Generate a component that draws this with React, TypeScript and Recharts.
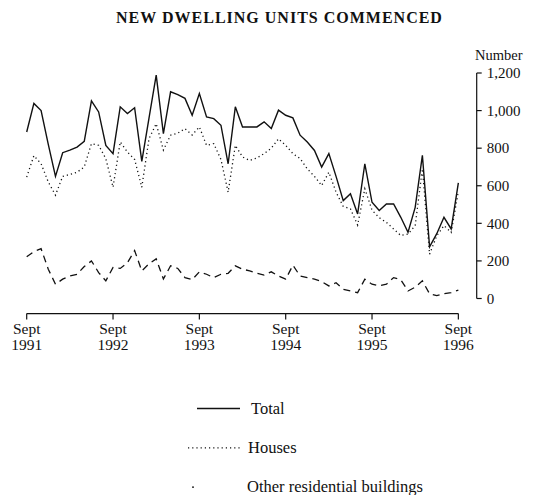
import React from "react";
import { LineChart, Line, XAxis, YAxis, ReferenceLine } from "recharts";

// month index 0 = Sept 1991 ... 60 = Sept 1996
const total = [
  886, 1038, 1000, 820, 650, 776, 790, 806, 836, 1052,
  993, 815, 771, 1020, 984, 1015, 730, 960, 1189, 877,
  1100, 1085, 1065, 975, 1091, 966, 957, 922, 717, 1020,
  913, 913, 913, 940, 904, 1002, 975, 961, 869, 833,
  788, 699, 771, 650, 521, 557, 450, 717, 512, 468,
  503, 503, 432, 352, 485, 762, 275, 345, 432, 370, 615,
];
const houses = [
  646, 760, 717, 620, 550, 650, 660, 672, 700, 824,
  815, 744, 592, 833, 780, 740, 592, 850, 930, 790,
  869, 880, 904, 870, 913, 815, 824, 740, 566, 815,
  753, 735, 748, 771, 800, 850, 815, 771, 745, 690,
  650, 601, 672, 566, 490, 477, 391, 584, 470, 430,
  405, 370, 335, 343, 388, 690, 236, 334, 388, 352, 570,
];
const otherRes = [
  222, 250, 265, 156, 76, 103, 120, 129, 170, 200,
  138, 94, 165, 160, 190, 255, 147, 185, 211, 104,
  174, 160, 111, 100, 142, 129, 111, 129, 134, 174,
  156, 147, 134, 125, 142, 120, 103, 177, 120, 111,
  103, 90, 67, 84, 49, 40, 31, 103, 76, 67,
  76, 111, 100, 40, 60, 94, 25, 15, 26, 31, 45,
];

const xTicks = [0, 12, 24, 36, 48, 60];
const xTickYears = ["1991", "1992", "1993", "1994", "1995", "1996"];
const yTicks = [0, 200, 400, 600, 800, 1000, 1200];

const data = total.map((t, i) => ({
  month: i,
  total: t,
  houses: houses[i],
  other: otherRes[i],
}));

const FONT = "'Liberation Serif', 'Times New Roman', serif";
const INK = "#111";
const XMAX = 62.55;

const legend = [
  { label: "Total", dash: undefined, x1: 197, x2: 240, tx: 251 },
  { label: "Houses", dash: "1.2 3", x1: 188, x2: 240, tx: 248 },
  { label: "Other residential buildings", dash: "2 60", x1: 192, x2: 240, tx: 247 },
];

function XTick({ x, y, payload }: any) {
  const k = xTicks.indexOf(payload.value);
  return (
    <g>
      <line x1={x} x2={x} y1={y + 15} y2={y + 21} stroke={INK} strokeWidth={1.2} />
      <text x={x} y={y + 35} textAnchor="middle" fontSize={15.5} fontFamily={FONT} fill={INK}>
        Sept
      </text>
      <text x={x} y={y + 51.5} textAnchor="middle" fontSize={15.5} fontFamily={FONT} fill={INK}>
        {xTickYears[k]}
      </text>
    </g>
  );
}

export default function App() {
  return (
    <div style={{ position: "absolute", left: 0, top: 0, width: 536, height: 495, background: "#fff" }}>
      <LineChart
        width={536}
        height={495}
        data={data}
        margin={{ top: 73, right: 4.3, bottom: 136.5, left: 26.7 }}
      >
        <XAxis
          dataKey="month"
          type="number"
          domain={[0, XMAX]}
          ticks={xTicks}
          axisLine={false}
          tickLine={false}
          tickSize={0}
          tickMargin={0}
          height={60}
          tick={<XTick />}
        />
        <YAxis
          orientation="right"
          domain={[0, 1200]}
          ticks={yTicks}
          width={55}
          tickSize={5}
          tickMargin={5}
          axisLine={{ stroke: INK, strokeWidth: 1.2 }}
          tickLine={{ stroke: INK, strokeWidth: 1.2 }}
          tick={{ fontSize: 15, fontFamily: FONT, fill: INK }}
          tickFormatter={(v: number) => v.toLocaleString("en-US")}
        />
        <ReferenceLine
          segment={[{ x: 0, y: -80 }, { x: 60, y: -80 }]}
          stroke={INK}
          strokeWidth={1.2}
          ifOverflow="visible"
        />
        <Line dataKey="other" stroke={INK} strokeWidth={1.3} strokeDasharray="7 5" dot={false} isAnimationActive={false} />
        <Line dataKey="houses" stroke={INK} strokeWidth={1.3} strokeDasharray="1.2 3" dot={false} isAnimationActive={false} />
        <Line dataKey="total" stroke={INK} strokeWidth={1.4} dot={false} isAnimationActive={false} />
      </LineChart>
      <svg
        width={536}
        height={495}
        style={{ position: "absolute", left: 0, top: 0, pointerEvents: "none" }}
      >
        <text x={279.5} y={23} textAnchor="middle" fontSize={16} fontWeight="bold" letterSpacing={1} fontFamily={FONT} fill={INK}>
          NEW DWELLING UNITS COMMENCED
        </text>
        <text x={475} y={60} fontSize={14.5} fontFamily={FONT} fill={INK}>
          Number
        </text>
        {legend.map((l, k) => {
          const cy = 408.5 + 39.3 * k;
          return (
            <g key={l.label}>
              <line x1={l.x1} x2={l.x2} y1={cy} y2={cy} stroke={INK} strokeWidth={1.3} strokeDasharray={l.dash} />
              <text x={l.tx} y={cy + 5} fontSize={16.5} fontFamily={FONT} fill={INK}>
                {l.label}
              </text>
            </g>
          );
        })}
      </svg>
    </div>
  );
}
